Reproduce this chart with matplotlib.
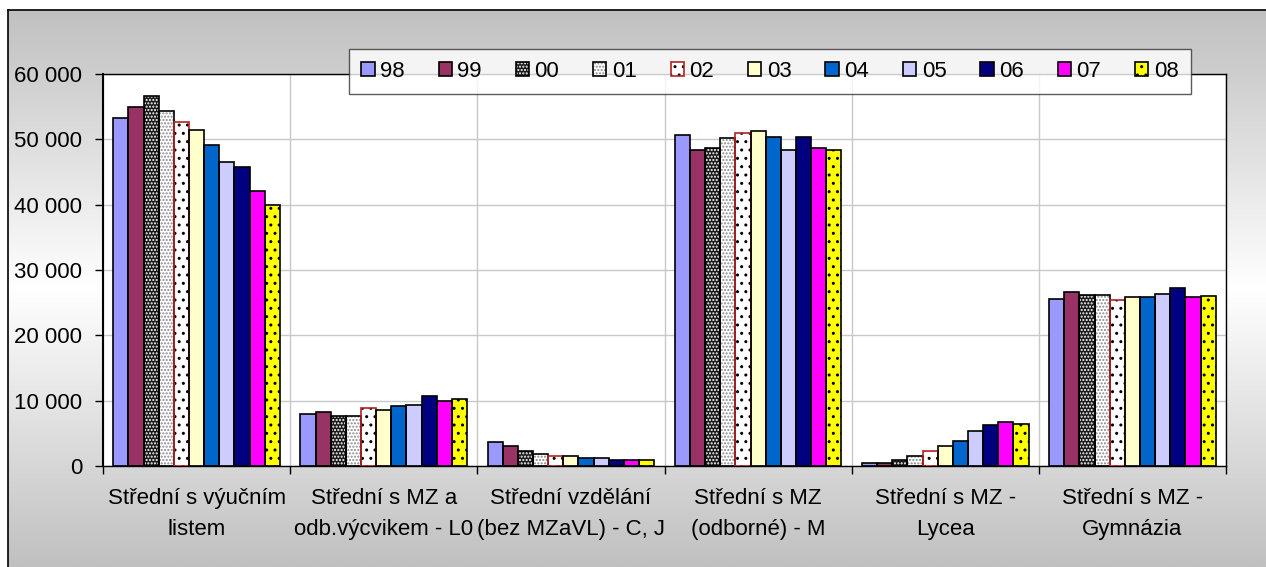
import matplotlib.pyplot as plt
import numpy as np
from matplotlib.ticker import FuncFormatter, FixedLocator
from matplotlib.legend_handler import HandlerTuple

plt.rcParams['font.family'] = ['Liberation Sans', 'DejaVu Sans']
plt.rcParams['hatch.linewidth'] = 1.0

categories = ["Střední s výučním\nlistem",
              "Střední s MZ a\nodb.výcvikem - L0",
              "Střední vzdělání\n(bez MZaVL) - C, J",
              "Střední s MZ\n(odborné) - M",
              "Střední s MZ -\nLycea",
              "Střední s MZ -\nGymnázia"]
years = ["98", "99", "00", "01", "02", "03", "04", "05", "06", "07", "08"]

# values per year, one entry per category
v98 = [53300, 8000, 3600, 50600, 450, 25600]
v99 = [55000, 8200, 3100, 48400, 450, 26700]
v00 = [56600, 7600, 2300, 48600, 900, 26100]
v01 = [54300, 7600, 1800, 50200, 1600, 26100]
v02 = [52700, 8900, 1600, 50900, 2300, 25400]
v03 = [51500, 8600, 1500, 51300, 3100, 25800]
v04 = [49200, 9200, 1300, 50400, 3800, 25800]
v05 = [46500, 9400, 1300, 48400, 5300, 26300]
v06 = [45700, 10700, 900, 50400, 6300, 27200]
v07 = [42100, 10000, 850, 48600, 6700, 25800]
v08 = [39900, 10200, 850, 48400, 6500, 26000]
series = [v98, v99, v00, v01, v02, v03, v04, v05, v06, v07, v08]

# (facecolor, hatch, hatch colour, outline colour)
styles = [("#9999FF", None, None, "black"),
          ("#993366", None, None, "black"),
          ("#1a1a1a", ".....", "white", "black"),
          ("white", ".....", "#888888", "black"),
          ("white", "..", "black", "#B22222"),
          ("#FFFFCC", None, None, "black"),
          ("#0066CC", None, None, "black"),
          ("#CCCCFF", None, None, "black"),
          ("#000080", None, None, "black"),
          ("#FF00FF", None, None, "black"),
          ("#FFFF00", "..", "black", "black")]

W, H = 1266, 567
fig = plt.figure(figsize=(W / 100, H / 100), dpi=100)
fig.patch.set_facecolor("white")

# gradient background inside the outer frame (grey at edges, white in middle)
bg = fig.add_axes([8 / W, 0, 1 - 8 / W, 1 - 10 / H])
bg.set_axis_off()
g = np.abs(np.linspace(-1, 1, 256))
shade = 1 - (1 - 192 / 255) * g
img = np.repeat(shade[:, None, None], 3, axis=2).repeat(2, axis=1)
bg.imshow(img, aspect="auto", extent=[0, 1, 0, 1], interpolation="bilinear")
bg.set_xlim(0, 1)
bg.set_ylim(0, 1)
bg.plot([0, 0], [0, 1], color="black", lw=1.2, transform=bg.transAxes, clip_on=False)
bg.plot([0, 1], [1, 1], color="black", lw=1.2, transform=bg.transAxes, clip_on=False)

ax = fig.add_axes([103 / W, 1 - 466 / H, (1226 - 103) / W, (466 - 74) / H])
ax.set_facecolor("white")

n = len(series)
group = 0.89
bw = group / n
x = np.arange(len(categories))
handles = []
for i, (vals, st) in enumerate(zip(series, styles)):
    fc, hatch, hc, ec = st
    pos = x - group / 2 + bw * (i + 0.5)
    if hatch:
        b1 = ax.bar(pos, vals, bw, color=fc, hatch=hatch, edgecolor=hc, linewidth=0, zorder=2)
    else:
        b1 = ax.bar(pos, vals, bw, color=fc, linewidth=0, zorder=2)
    b2 = ax.bar(pos, vals, bw, fill=False, edgecolor=ec, linewidth=1.2, zorder=3)
    handles.append((b1.patches[0], b2.patches[0]))

ax.set_xlim(-0.5, len(categories) - 0.5)
ax.set_ylim(0, 60000)
ax.set_yticks(np.arange(0, 60001, 10000))
ax.yaxis.set_major_formatter(FuncFormatter(lambda v, p: f"{int(v):,}".replace(",", " ")))
ax.set_xticks(x)
ax.set_xticklabels(categories, fontsize=16, linespacing=1.6)
ax.xaxis.set_minor_locator(FixedLocator(np.arange(-0.5, len(categories), 1.0)))
ax.tick_params(axis="x", which="major", length=0, pad=16)
ax.tick_params(axis="x", which="minor", length=6, width=1, direction="out")
ax.tick_params(axis="y", length=6, width=1, direction="out", pad=9, labelsize=16)
ax.grid(axis="y", color="#C8C8C8", lw=1, zorder=0)
ax.grid(axis="x", which="minor", color="#C8C8C8", lw=1, zorder=0)
ax.set_axisbelow(True)
for s in ax.spines.values():
    s.set_color("black")
    s.set_linewidth(1.0)
ax.spines["left"].set_linewidth(1.5)

leg = fig.legend(handles, years, handler_map={tuple: HandlerTuple(ndivide=1)},
                 ncol=11, loc="upper left", bbox_to_anchor=(349 / W, 1 - 49 / H),
                 fontsize=16, frameon=True, fancybox=False, handlelength=0.6,
                 handleheight=0.6, handletextpad=0.25, columnspacing=1.52,
                 borderpad=0.55, borderaxespad=0)
leg.get_frame().set_edgecolor("#333333")
leg.get_frame().set_linewidth(1.0)

fig.savefig("out.png", dpi=100)
